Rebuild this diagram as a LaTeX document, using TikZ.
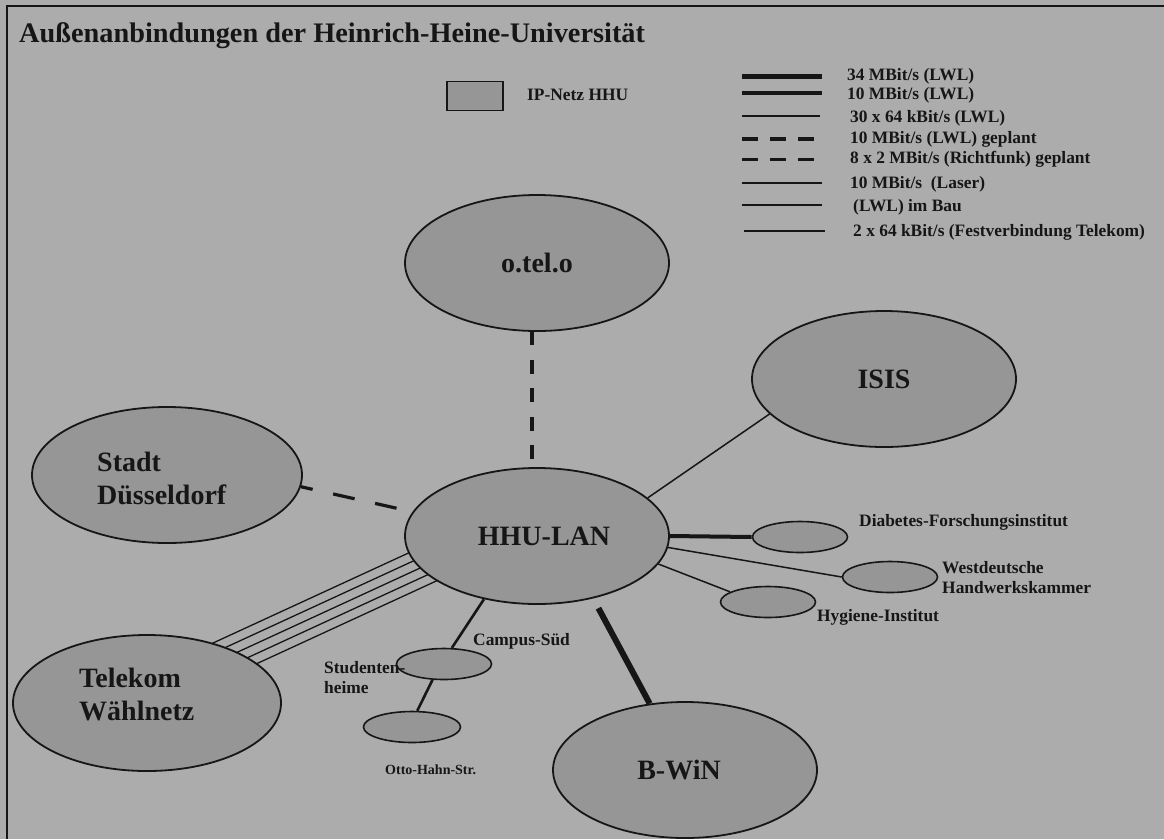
\documentclass[tikz,border=0pt]{standalone}
\usepackage{fontspec}
\setmainfont{Liberation Serif}
\usetikzlibrary{shapes.geometric}
\pgfdeclarelayer{back}
\pgfdeclarelayer{wires}
\pgfsetlayers{back,wires,main}
\definecolor{paper}{RGB}{172,172,172}
\definecolor{blob}{RGB}{150,150,150}
\definecolor{ink}{RGB}{22,22,22}
\tikzset{
  big/.style={ellipse, draw=ink, line width=1.8pt, fill=blob, minimum width=264pt, minimum height=136pt, inner sep=0pt, text=ink, font=\bfseries\fontsize{28}{32}\selectfont, align=left},
  bigtext/.style={inner sep=0pt, text=ink, font=\bfseries\fontsize{28}{33}\selectfont, align=left},
  small/.style={ellipse, draw=ink, line width=1.6pt, fill=blob, minimum width=95pt, minimum height=31pt, inner sep=0pt},
  lbl/.style={font=\bfseries\fontsize{17.4}{20}\selectfont, text=ink, inner sep=0pt, align=left},
  wire/.style={draw=ink, line width=1.5pt},
  bundle/.style={draw=ink, line width=1.3pt},
  midwire/.style={draw=ink, line width=2.6pt},
  fatwire/.style={draw=ink, line width=4pt},
  hugewire/.style={draw=ink, line width=6pt},
  plandash/.style={draw=ink, line width=3.2pt, dash pattern=on 14pt off 14.5pt},
  plandashb/.style={draw=ink, line width=3.2pt, dash pattern=on 22pt off 21pt, dash phase=10pt},
  keyline/.style={draw=ink},
}
\begin{document}
\begin{tikzpicture}[x=1pt,y=-1pt]
\useasboundingbox (0,0) rectangle (1164,839);
\begin{pgfonlayer}{back}
  \fill[paper] (0,0) rectangle (1164,839);
\end{pgfonlayer}
% frame
\draw[ink, line width=2.2pt] (7,839) -- (7,6) -- (1164,6);
% title
\node[anchor=base west, inner sep=0pt, text=ink, font=\bfseries\fontsize{28.3}{30}\selectfont] (title) at (19,42) {Außenanbindungen der Heinrich-Heine-Universität};
% IP-Netz legend
\node[draw=ink, line width=1.5pt, fill=blob, minimum width=56pt, minimum height=29pt, inner sep=0pt] (ipbox) at (475,96) {};
\node[lbl, anchor=west] (iptext) at (527,95) {IP-Netz HHU};
% line legend
\node[lbl, anchor=west] (leg1) at (847,76) {34 MBit/s (LWL)};
\node[lbl, anchor=west] (leg2) at (847,95) {10 MBit/s (LWL)};
\node[lbl, anchor=west] (leg3) at (850,118) {30 x 64 kBit/s (LWL)};
\node[lbl, anchor=west] (leg4) at (850,139) {10 MBit/s (LWL) geplant};
\node[lbl, anchor=west] (leg5) at (850,159) {8 x 2 MBit/s (Richtfunk) geplant};
\node[lbl, anchor=west] (leg6) at (850,184) {10 MBit/s\ \ (Laser)};
\node[lbl, anchor=west] (leg7) at (853,207) {(LWL) im Bau};
\node[lbl, anchor=west] (leg8) at (853,232) {2 x 64 kBit/s (Festverbindung Telekom)};
\draw[keyline, line width=5pt] (742,76) -- (822,76);
\draw[keyline, line width=3.5pt] (742,93) -- (822,93);
\draw[keyline, line width=1.5pt] (742,116) -- (820,116);
\draw[keyline, line width=3.5pt, dash pattern=on 16pt off 12pt] (742,139) -- (814,139);
\draw[keyline, line width=3pt, dash pattern=on 16pt off 12pt] (742,159) -- (814,159);
\draw[keyline, line width=1.8pt] (742,183) -- (822,183);
\draw[keyline, line width=2pt] (742,205) -- (822,205);
\draw[keyline, line width=1.8pt] (744,231) -- (825,231);
% main ellipses
\node[big] (otelo) at (537,263) {o.tel.o};
\node[big] (hhu) at (537,536) {\hspace*{14pt}HHU-LAN};
\node[big] (isis) at (884,379) {ISIS};
\node[big, minimum width=270pt] (stadt) at (167,475) {};
\node[bigtext, anchor=north west] (lstadt) at (97,452) {Stadt\\Düsseldorf};
\node[big, minimum width=268pt] (tel) at (147,703) {};
\node[bigtext, anchor=north west] (ltel) at (79,668) {Telekom\\Wählnetz};
\node[big] (bwin) at (685,770) {B-WiN\hspace*{12pt}};
% small ellipses
\node[small] (diab) at (800,537) {};
\node[small] (west) at (890,577) {};
\node[small] (hyg) at (768,602) {};
\node[small] (campus) at (444,664) {};
\node[small, minimum width=97pt] (otto) at (412,727) {};
% small labels
\node[lbl, anchor=west] (ldiab) at (859,522) {Diabetes-Forschungsinstitut};
\node[lbl, anchor=west] (lwest) at (942,578) {Westdeutsche\\Handwerkskammer};
\node[lbl, anchor=west] (lhyg) at (817,617) {Hygiene-Institut};
\node[lbl, anchor=west] (lcampus) at (473,641) {Campus-Süd};
\node[lbl, anchor=west] (lstud) at (324,678) {Studenten-\\heime};
\node[lbl, anchor=west, font=\bfseries\fontsize{14}{16}\selectfont] (lotto) at (385,770) {Otto-Hahn-Str.};
% connectors
\begin{pgfonlayer}{wires}
  \draw[plandash, shorten <=8pt] ([xshift=-5pt]hhu.north) -- ([xshift=-5pt]otelo.south);
  \draw[plandashb, shorten >=15pt] (stadt.-5.5) -- (hhu.169);
  \draw[wire] (hhu.19) -- (isis.197);
  \draw[fatwire] (hhu.east) -- (diab.west);
  \draw[wire] (hhu.-5.6) -- (west.west);
  \draw[wire] (hhu.-13) -- (hyg.165);
  \draw[hugewire, shorten <=11pt] (hhu.-48.6) -- (bwin.118.5);
  \draw[midwire] (hhu.230.2) -- (campus.64.8);
  \draw[midwire] (campus.234) -- (otto.72);
  \foreach \k in {-2,...,2}
    \draw[bundle] ([shift={(36.5+3.9*\k,-26+8.4*\k)}]tel.center) -- ([shift={(-64.5+3.9*\k,7.9+8.4*\k)}]hhu.center);
\end{pgfonlayer}
\end{tikzpicture}
\end{document}
